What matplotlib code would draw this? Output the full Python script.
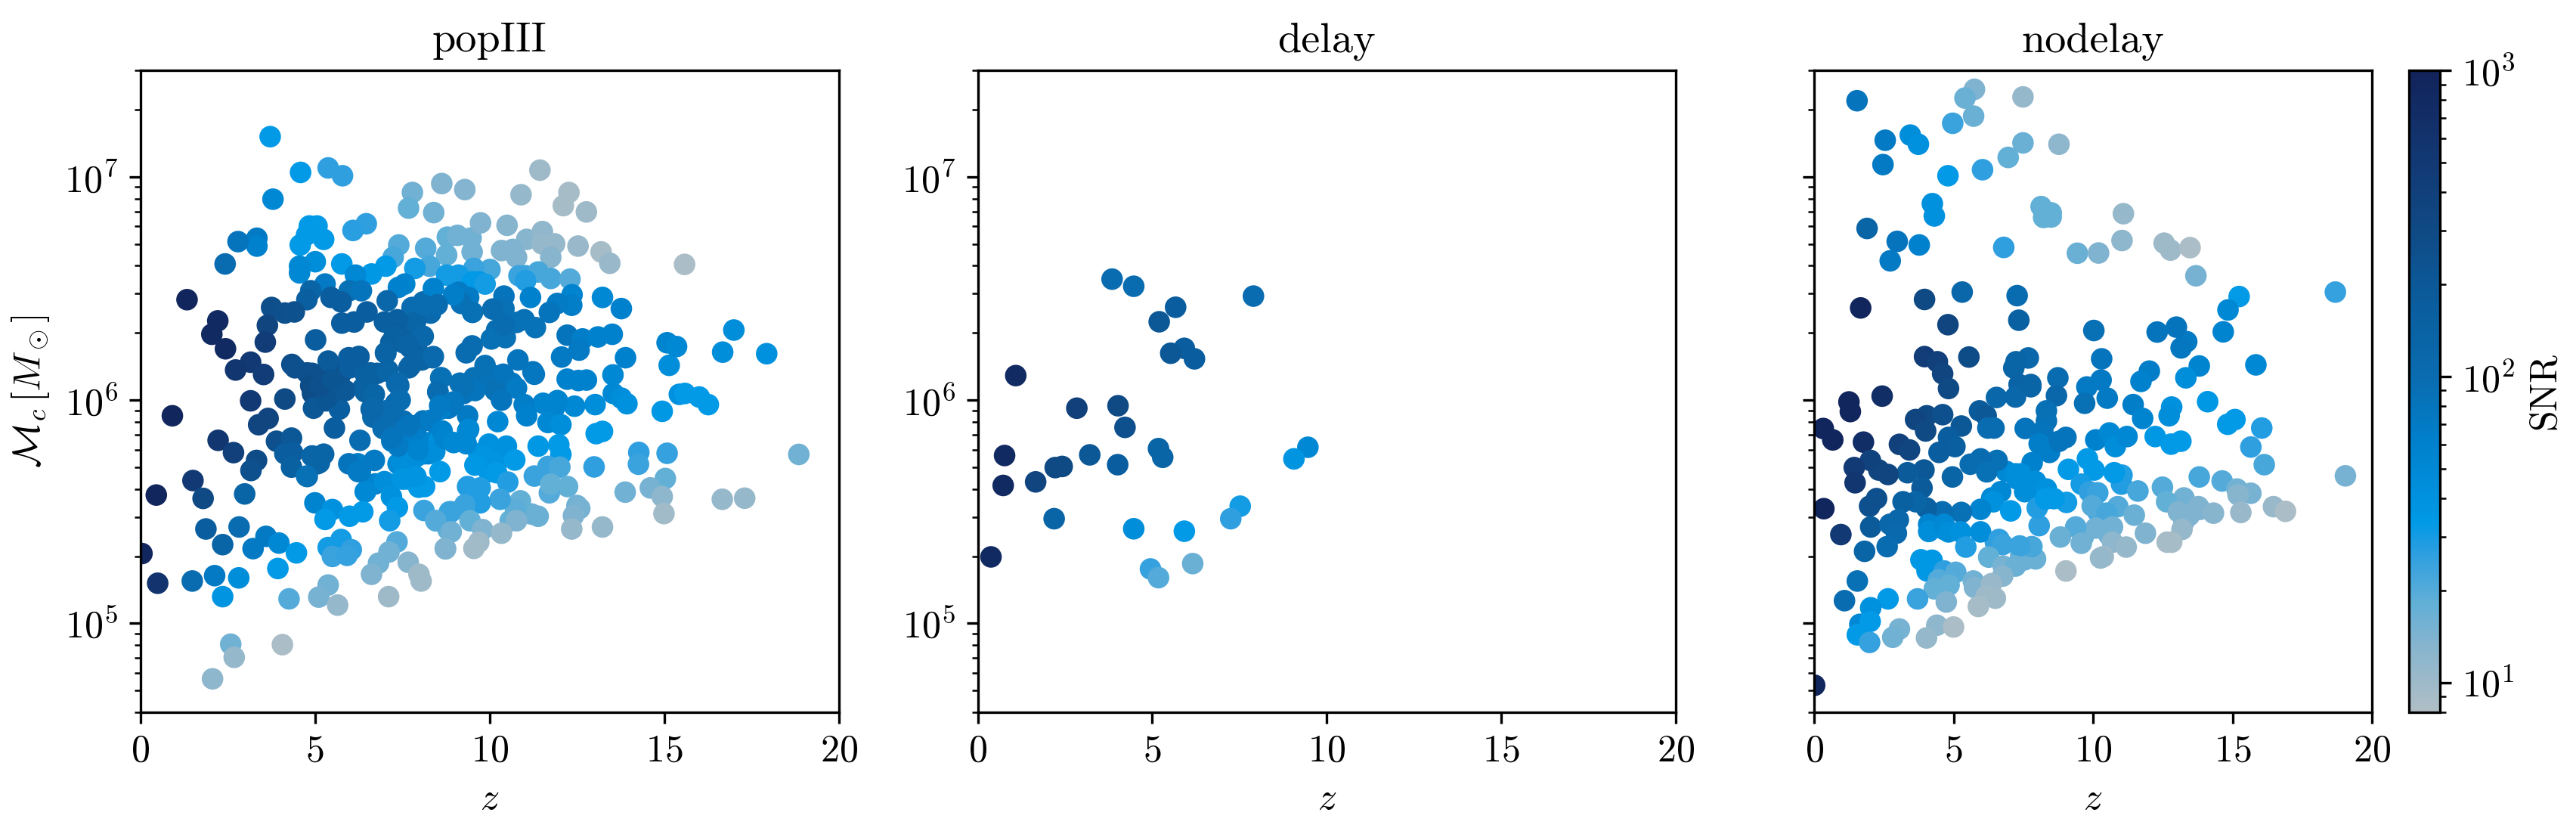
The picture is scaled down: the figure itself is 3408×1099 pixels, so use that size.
#!/usr/bin/env python3
"""
Chirp mass vs redshift scatter for the popIII, delay and nodelay models, coloured by SNR
"""

import numpy as np
import matplotlib
matplotlib.use('Agg')
import matplotlib.pyplot as plt
from matplotlib.colors import LinearSegmentedColormap, LogNorm

plt.rcParams['font.family'] = ['cmr10']
plt.rcParams['mathtext.fontset'] = 'cm'
plt.rcParams['axes.unicode_minus'] = False
plt.rcParams['axes.formatter.use_mathtext'] = True
plt.rcParams['font.size'] = 12

panel_titles = ['popIII', 'delay', 'nodelay']
x_ticks = [0, 5, 10, 15, 20]

# values, masses as log10(Mc / Msun)
popiii_z = [
    10.41, 10.77, 10.20, 7.45, 7.74, 7.53, 7.96, 7.17, 6.59, 7.09,
    5.94, 5.07, 4.78, 5.36, 5.72, 4.93, 5.22, 6.37, 7.31, 7.02,
    6.80, 7.53, 7.81, 8.10, 8.82, 9.26, 9.69, 10.12, 10.63, 11.85,
    7.81, 7.38, 7.09, 7.67, 7.96, 8.39, 7.38, 7.81, 8.25, 7.60,
    9.69, 10.20, 9.98, 10.34, 7.67, 6.44, 6.73, 6.23, 6.30, 4.93,
    5.07, 4.78,
    3.72, 4.59, 5.38, 5.79, 3.80, 7.79, 7.68, 8.40, 8.63, 6.47,
    6.09, 4.84, 5.06, 4.76, 5.25, 4.58, 3.34, 3.34, 2.80, 2.43,
    5.01, 4.56, 4.56, 5.77, 7.40, 7.24, 8.17, 8.79, 8.77, 8.28,
    7.86, 7.03, 6.62, 6.16, 8.77, 7.57, 7.39, 5.29, 5.98, 6.33,
    4.88, 4.77, 5.46, 5.75, 3.76, 4.14, 4.41, 3.64, 2.22, 2.05,
    2.44, 3.58, 1.34, 5.02, 5.77, 6.12, 6.49, 7.07, 7.78, 8.10,
    8.49, 8.31, 7.88, 6.99, 7.36, 8.06, 7.32, 7.73, 7.03, 8.37,
    7.69, 8.06, 8.60, 7.34, 8.52, 6.78, 7.07, 6.25, 5.97, 6.00,
    5.38, 6.43, 4.34, 4.43, 3.16, 2.73, 3.53, 4.92, 5.33, 4.88,
    5.38, 6.49, 7.40, 4.14, 3.16, 0.92, 4.96, 5.33, 5.70, 6.61,
    6.61, 7.40, 7.11, 6.66, 5.56, 3.66, 3.39, 7.03, 7.69, 8.31,
    8.60, 2.23, 2.67, 3.90, 4.33, 4.36, 4.14, 6.29, 7.20, 7.69,
    8.56, 8.15, 5.25, 4.92, 3.33, 3.17, 4.33, 5.13, 4.76, 5.97,
    6.70, 6.24, 7.47, 7.93, 8.43, 8.58, 7.56, 7.97, 6.99, 6.45,
    1.51, 1.80, 0.46, 2.99, 5.00, 5.50, 5.29, 5.99, 6.37, 7.19,
    7.36, 7.14, 8.12, 8.48, 8.81, 8.85, 1.88, 2.83, 2.36, 3.60,
    3.23, 3.97, 4.47, 5.75, 5.38, 6.04, 5.50, 5.92, 7.35, 7.12,
    6.82, 7.67, 6.62, 7.98, 8.04, 7.11, 8.73, 0.05, 0.50, 1.49,
    2.13, 2.82, 3.94, 2.36, 4.26, 5.38, 5.11, 5.65, 2.59, 2.69,
    4.07, 2.07, 9.08, 9.47, 9.50, 9.74, 10.50, 11.06, 11.51, 10.34,
    10.66, 10.77, 11.86, 11.50, 11.75, 12.53, 13.19, 13.44, 15.58, 10.01,
    9.55, 9.11, 9.51, 9.69, 9.87, 10.84, 11.03, 11.39, 11.03, 11.75,
    12.30, 12.36, 12.35, 11.94, 11.71, 11.17, 10.41, 10.41, 10.09, 13.23,
    13.77, 9.40, 9.11, 9.19, 9.51, 8.97, 8.39, 8.50, 8.10, 7.27,
    8.10, 7.67, 8.39, 7.74, 7.02, 6.26, 9.33, 9.50, 10.05, 10.45,
    10.41, 10.99, 11.31, 10.81, 11.24, 11.28, 9.87, 9.55, 9.15, 10.39,
    10.77, 10.16, 9.58, 10.34, 8.62, 8.52, 12.22, 12.66, 12.56, 12.06,
    13.10, 13.51, 13.89, 12.22, 12.54, 12.77, 13.53, 15.08, 15.14, 13.54,
    13.77, 13.93, 13.02, 12.43, 11.94, 11.53, 10.99, 11.06, 11.67, 12.04,
    10.23, 9.37, 9.40, 13.05, 13.23, 14.94, 15.43, 5.36, 5.15, 5.87,
    5.51, 6.44, 6.70, 7.37, 7.44, 7.20, 7.67, 6.66, 6.95, 8.32,
    8.64, 9.26, 8.97, 8.57, 7.38, 7.20, 7.96, 8.72, 8.97, 9.37,
    9.33, 9.98, 10.48, 11.39, 11.98, 12.04, 10.72, 9.83, 9.58, 10.20,
    10.52, 9.73, 9.37, 8.14, 7.49, 7.89, 11.28, 11.67, 12.01, 12.23,
    11.71, 11.75, 12.99, 14.27, 14.26, 15.08, 15.03, 14.60, 14.94, 14.99,
    13.88, 13.23, 12.50, 12.58, 12.40, 12.35, 11.39, 11.20, 10.88, 10.74,
    10.59, 10.77, 10.30, 9.73, 9.29, 8.90, 8.46, 9.44, 9.80, 8.90,
    10.34, 9.69, 9.55, 8.74, 15.59, 16.00, 16.26, 18.85, 16.66, 17.30,
    16.99, 16.67, 17.93, 15.35, 11.44, 10.90, 9.29, 12.27, 12.11, 12.77,
]
popiii_logmc = [
    6.37, 6.348, 6.314, 6.348, 6.314, 6.257, 6.212, 6.257, 6.122, 6.133,
    6.145, 6.11, 6.122, 6.077, 6.11, 6.03, 5.997, 6.054, 5.986, 5.952,
    5.92, 5.907, 5.885, 5.907, 5.964, 6.03, 6.077, 6.11, 6.077, 5.964,
    5.873, 5.884, 5.873, 5.805, 5.828, 5.816, 5.715, 5.737, 5.76, 5.68,
    5.76, 5.715, 5.68, 5.749, 5.647, 5.59, 5.625, 5.715, 5.68, 5.749,
    5.715, 5.658,
    7.18, 7.02, 7.04, 7.005, 6.90, 6.93, 6.86, 6.84, 6.97, 6.79,
    6.76, 6.78, 6.78, 6.74, 6.72, 6.695, 6.725, 6.69, 6.71, 6.61,
    6.62, 6.60, 6.57, 6.61, 6.695, 6.64, 6.68, 6.73, 6.65, 6.60,
    6.59, 6.60, 6.565, 6.56, 6.56, 6.52, 6.505, 6.52, 6.49, 6.49,
    6.49, 6.45, 6.46, 6.44, 6.415, 6.39, 6.395, 6.335, 6.355, 6.295,
    6.23, 6.26, 6.45, 6.27, 6.345, 6.35, 6.395, 6.445, 6.415, 6.44,
    6.43, 6.39, 6.35, 6.35, 6.36, 6.285, 6.29, 6.235, 6.21, 6.19,
    6.145, 6.18, 6.10, 6.075, 6.04, 6.12, 6.13, 6.195, 6.19, 6.145,
    6.175, 6.12, 6.16, 6.145, 6.17, 6.135, 6.115, 6.12, 6.085, 6.065,
    6.07, 6.04, 6.065, 6.005, 5.997, 5.93, 5.964, 5.997, 5.96, 6.02,
    5.96, 6.00, 5.95, 5.924, 5.875, 5.918, 5.89, 5.88, 5.885, 5.91,
    5.96, 5.82, 5.765, 5.816, 5.83, 5.765, 5.76, 5.82, 5.816, 5.78,
    5.82, 5.76, 5.758, 5.75, 5.73, 5.685, 5.70, 5.72, 5.66, 5.715,
    5.73, 5.68, 5.725, 5.75, 5.77, 5.68, 5.647, 5.61, 5.635, 5.59,
    5.64, 5.56, 5.575, 5.58, 5.54, 5.51, 5.466, 5.48, 5.50, 5.568,
    5.52, 5.46, 5.506, 5.46, 5.42, 5.50, 5.423, 5.432, 5.353, 5.39,
    5.335, 5.36, 5.316, 5.376, 5.34, 5.33, 5.30, 5.305, 5.365, 5.32,
    5.27, 5.274, 5.22, 5.22, 5.19, 5.12, 5.336, 5.313, 5.18, 5.19,
    5.214, 5.204, 5.246, 5.12, 5.11, 5.172, 5.118, 5.082, 4.907, 4.848,
    4.905, 4.752, 6.738, 6.726, 6.664, 6.794, 6.783, 6.72, 6.755, 6.67,
    6.675, 6.64, 6.70, 6.70, 6.64, 6.69, 6.664, 6.613, 6.608, 6.585,
    6.59, 6.56, 6.53, 6.53, 6.52, 6.557, 6.557, 6.574, 6.535, 6.545,
    6.542, 6.472, 6.425, 6.433, 6.393, 6.46, 6.466, 6.41, 6.408, 6.46,
    6.41, 6.46, 6.483, 6.433, 6.393, 6.472, 6.50, 6.427, 6.427, 6.286,
    6.286, 6.246, 6.195, 6.155, 6.212, 6.195, 6.212, 6.243, 6.274, 6.28,
    6.337, 6.36, 6.325, 6.18, 6.127, 6.116, 6.155, 6.10, 6.076, 6.116,
    6.054, 6.043, 6.043, 6.00, 6.10, 6.035, 6.291, 6.274, 6.224, 6.193,
    6.283, 6.295, 6.19, 6.094, 6.088, 6.09, 6.113, 6.257, 6.156, 6.03,
    6.009, 5.984, 5.98, 5.973, 5.998, 5.986, 5.98, 5.93, 5.90, 5.89,
    5.904, 5.93, 5.87, 5.85, 5.86, 5.95, 6.026, 6.01, 6.065, 6.043,
    6.09, 6.037, 6.026, 6.077, 6.00, 5.947, 5.885, 5.963, 5.873, 5.907,
    5.862, 6.065, 5.992, 5.975, 5.794, 5.83, 5.777, 5.828, 5.81, 5.862,
    5.805, 5.803, 5.794, 5.794, 5.80, 5.757, 5.732, 5.749, 5.709, 5.675,
    5.633, 5.607, 5.613, 5.613, 5.647, 5.658, 5.66, 5.703, 5.70, 5.613,
    5.585, 5.624, 5.701, 5.766, 5.713, 5.762, 5.649, 5.607, 5.568, 5.492,
    5.588, 5.432, 5.528, 5.515, 5.483, 5.423, 5.48, 5.49, 5.549, 5.511,
    5.46, 5.46, 5.556, 5.54, 5.531, 5.50, 5.46, 5.46, 5.42, 5.41,
    5.404, 5.364, 5.336, 5.334, 6.03, 6.014, 5.98, 5.757, 5.556, 5.561,
    6.314, 6.215, 6.208, 6.24, 7.03, 6.92, 6.943, 6.93, 6.871, 6.843,
]
popiii_snr = [
    90, 90, 95, 150, 150, 150, 130, 160, 150, 150,
    170, 260, 260, 230, 230, 280, 260, 150, 110, 110,
    110, 95, 90, 80, 75, 85, 85, 85, 75, 55,
    85, 90, 90, 65, 65, 55, 50, 50, 50, 42,
    38, 33, 35, 38, 38, 50, 55, 65, 65, 120,
    130, 110,
    33, 33, 26, 26, 50, 16, 18, 16, 14, 26,
    27, 33, 33, 33, 33, 33, 70, 60, 80, 100,
    45, 50, 50, 33, 20, 22, 20, 18, 18, 22,
    30, 33, 35, 50, 30, 55, 60, 70, 90, 80,
    130, 160, 170, 170, 260, 250, 240, 350, 800, 800,
    800, 450, 900, 170, 170, 170, 170, 120, 100, 100,
    100, 110, 130, 160, 160, 130, 170, 170, 160, 120,
    140, 140, 90, 100, 90, 160, 130, 170, 170, 170,
    180, 150, 260, 250, 500, 550, 450, 250, 250, 280,
    250, 150, 100, 300, 500, 900, 200, 220, 170, 130,
    130, 110, 100, 120, 170, 350, 350, 90, 70, 60,
    60, 550, 400, 250, 200, 170, 170, 100, 70, 60,
    40, 50, 130, 130, 280, 250, 150, 130, 90, 80,
    70, 70, 45, 45, 45, 33, 40, 33, 45, 50,
    500, 300, 900, 130, 55, 40, 33, 33, 33, 40,
    33, 30, 24, 22, 18, 24, 170, 100, 130, 70,
    70, 50, 33, 30, 30, 26, 24, 25, 20, 16,
    16, 13, 14, 10, 10, 10, 14, 900, 600, 100,
    70, 45, 33, 38, 20, 16, 15, 11, 16, 11,
    8.5, 12, 16, 16, 16, 14, 13, 13, 11.5, 14,
    14, 14, 11, 11, 13, 10.5, 9, 10.5, 8.5, 22,
    24, 30, 33, 33, 30, 24, 24, 22, 28, 22,
    20, 55, 65, 70, 80, 60, 80, 90, 100, 50,
    60, 70, 70, 90, 90, 65, 60, 100, 100, 150,
    120, 140, 110, 140, 140, 170, 100, 100, 90, 90,
    100, 90, 85, 80, 80, 75, 90, 90, 90, 80,
    70, 90, 80, 80, 90, 100, 80, 65, 70, 70,
    60, 60, 60, 60, 60, 60, 50, 55, 45, 50,
    45, 40, 45, 50, 55, 55, 65, 60, 50, 45,
    50, 70, 50, 33, 33, 35, 40, 220, 250, 200,
    220, 150, 130, 110, 100, 100, 80, 120, 100, 70,
    60, 90, 75, 70, 70, 80, 55, 55, 50, 50,
    50, 40, 40, 35, 33, 33, 33, 38, 35, 33,
    28, 28, 28, 33, 38, 38, 24, 24, 22, 18,
    20, 18, 26, 26, 24, 25, 18, 15, 12, 9.5,
    16, 11, 16, 15, 14, 11, 17, 17, 18, 19,
    18, 14, 24, 28, 24, 24, 20, 18, 14, 16,
    11, 10, 9.5, 14, 33, 33, 33, 16, 11, 11,
    45, 45, 40, 50, 10, 11, 13.5, 9, 9, 10,
]

delay_z = [
    3.85, 4.47, 5.67, 5.20, 7.90, 5.92, 5.53, 6.21, 1.09, 2.84,
    4.02, 4.22, 5.18, 5.30, 0.77, 3.21, 4.01, 2.42, 2.22, 1.66,
    0.73, 2.19, 9.46, 9.06, 7.52, 7.25, 4.47, 5.92, 0.38, 6.16,
    4.95, 5.18,
]
delay_logmc = [
    6.542, 6.51, 6.416, 6.351, 6.466, 6.232, 6.21, 6.185, 6.11, 5.964,
    5.975, 5.878, 5.783, 5.744, 5.752, 5.755, 5.711, 5.703, 5.698, 5.634,
    5.618, 5.469, 5.789, 5.737, 5.525, 5.469, 5.424, 5.413, 5.298, 5.268,
    5.244, 5.205,
]
delay_snr = [
    100, 100, 170, 200, 100, 170, 200, 170, 800, 400,
    300, 250, 130, 130, 800, 200, 170, 300, 300, 350,
    800, 130, 50, 38, 30, 26, 45, 33, 800, 17,
    25, 20,
]

nodelay_z = [
    7.28, 6.89, 7.81, 4.66, 6.50, 7.41, 7.55, 9.65, 10.56, 12.66,
    13.26, 13.84, 10.17,
    1.54, 5.75, 5.41, 7.49, 5.72, 4.97, 2.55, 3.45, 3.74, 7.49,
    8.78, 2.47, 6.96, 4.80, 6.04, 4.24, 4.31, 8.14, 8.50, 8.50,
    8.23, 11.09, 1.90, 2.98, 3.77, 2.73, 6.80, 9.44, 10.20, 11.04,
    12.55, 12.78, 13.48, 13.69, 18.69, 15.24, 14.84, 14.67, 15.84, 13.81,
    13.33, 13.36, 12.99, 13.16, 12.30, 10.03, 12.02, 11.72, 10.31, 10.29,
    9.78, 8.74, 7.68, 7.24, 7.16, 7.77, 7.35, 5.31, 7.28, 7.34,
    3.96, 4.80, 1.67, 3.96, 4.42, 4.61, 5.55, 4.82, 1.25, 1.30,
    2.44, 0.33, 0.67, 1.77, 3.06, 3.42, 4.04, 3.64, 4.00, 4.61,
    5.28, 4.82, 5.05, 4.48, 5.93, 6.17, 6.54, 7.22, 7.77, 8.69,
    8.33, 8.33, 7.57, 6.23, 6.45, 8.20, 8.07, 8.44, 9.03, 8.79,
    9.70, 10.51, 11.44, 11.78, 12.82, 12.73, 14.11, 14.83, 15.09, 16.05,
    15.66, 16.14, 19.05, 10.10, 10.59, 10.80, 11.22, 12.23, 12.80, 13.15,
    9.80, 10.04, 9.12, 7.82, 6.56, 5.97, 5.60, 6.19, 4.96, 3.94,
    3.35, 3.87, 2.65, 2.32, 2.02, 1.44, 1.47, 7.22, 7.41, 7.94,
    8.33, 7.55, 6.69, 6.37, 6.43, 9.58, 9.87, 10.17, 11.04, 11.02,
    10.76, 11.61, 12.49, 13.81, 14.63, 13.26, 12.64, 15.16, 15.66, 15.20,
    13.78, 13.06, 13.45, 14.32, 15.30, 16.47, 16.90, 13.19, 12.82, 9.97,
    10.89, 11.48, 10.50, 11.88, 10.70, 10.10, 10.70, 11.19, 10.37, 10.27,
    9.38, 8.83, 9.58, 9.03, 7.94, 7.81, 7.37, 8.07, 8.00, 9.05,
    8.60, 8.30, 7.05, 5.97, 5.28, 4.60, 4.03, 3.65, 3.19, 2.24,
    1.99, 0.35, 0.96, 2.03, 3.02, 2.72, 2.95, 2.62, 1.81, 4.11,
    4.11, 4.66, 4.82, 5.25, 5.97, 5.44, 6.63, 6.76, 6.26, 6.78,
    7.22, 6.76, 3.83, 4.23, 4.05, 4.66, 5.08, 4.46, 4.31, 4.84,
    4.74, 3.71, 5.71, 5.75, 6.36, 6.17, 6.50, 5.89, 1.55, 1.09,
    2.65, 1.64, 2.03, 2.01, 1.55, 1.99, 3.06, 2.82, 4.40, 4.03,
    5.00, 0.02,
]
nodelay_logmc = [
    5.647, 5.681, 5.602, 5.421, 5.364, 5.308, 5.285, 5.387, 5.398, 5.364,
    5.455, 5.511, 5.50,
    7.341, 7.392, 7.353, 7.358, 7.272, 7.24, 7.164, 7.187, 7.146, 7.152,
    7.146, 7.055, 7.087, 7.005, 7.032, 6.88, 6.825, 6.867, 6.839, 6.82,
    6.818, 6.835, 6.769, 6.711, 6.695, 6.624, 6.684, 6.658, 6.659, 6.715,
    6.703, 6.672, 6.683, 6.557, 6.484, 6.464, 6.404, 6.306, 6.158, 6.153,
    6.10, 6.262, 6.327, 6.234, 6.305, 6.312, 6.13, 6.084, 6.185, 6.09,
    6.059, 6.10, 6.189, 6.172, 6.144, 6.07, 6.07, 6.484, 6.468, 6.358,
    6.451, 6.338, 6.413, 6.195, 6.172, 6.118, 6.193, 6.052, 5.992, 5.949,
    6.018, 5.873, 5.822, 5.812, 5.802, 5.777, 5.93, 5.913, 5.862, 5.935,
    5.884, 5.833, 5.792, 5.766, 5.952, 5.93, 6.012, 6.014, 6.06, 6.02,
    5.952, 5.907, 5.873, 5.875, 5.875, 5.862, 5.805, 5.766, 5.833, 5.816,
    5.986, 6.009, 5.98, 5.918, 5.969, 5.93, 5.993, 5.892, 5.913, 5.875,
    5.79, 5.711, 5.661, 5.822, 5.853, 5.792, 5.837, 5.837, 5.803, 5.816,
    5.737, 5.687, 5.69, 5.72, 5.73, 5.737, 5.713, 5.679, 5.656, 5.687,
    5.675, 5.607, 5.667, 5.687, 5.73, 5.698, 5.63, 5.67, 5.67, 5.636,
    5.602, 5.59, 5.59, 5.562, 5.545, 5.624, 5.59, 5.585, 5.664, 5.624,
    5.675, 5.593, 5.61, 5.656, 5.638, 5.562, 5.545, 5.602, 5.583, 5.576,
    5.523, 5.50, 5.483, 5.494, 5.497, 5.523, 5.502, 5.421, 5.364, 5.526,
    5.523, 5.485, 5.494, 5.404, 5.432, 5.427, 5.364, 5.342, 5.299, 5.293,
    5.432, 5.387, 5.359, 5.235, 5.289, 5.344, 5.347, 5.438, 5.517, 5.542,
    5.559, 5.557, 5.504, 5.511, 5.497, 5.50, 5.517, 5.545, 5.545, 5.559,
    5.525, 5.514, 5.398, 5.432, 5.464, 5.444, 5.404, 5.344, 5.323, 5.444,
    5.412, 5.444, 5.41, 5.41, 5.41, 5.342, 5.376, 5.353, 5.297, 5.257,
    5.257, 5.212, 5.285, 5.283, 5.235, 5.235, 5.229, 5.195, 5.155, 5.172,
    5.096, 5.11, 5.19, 5.161, 5.178, 5.122, 5.113, 5.076, 5.19, 5.102,
    5.11, 4.996, 5.07, 5.009, 4.949, 4.915, 4.975, 4.938, 4.992, 4.935,
    4.984, 4.723,
]
nodelay_snr = [
    45, 50, 45, 45, 26, 18, 17, 17, 16, 9,
    12, 14, 22,
    80, 14, 17, 11, 17, 24, 70, 45, 40, 17,
    12, 70, 18, 33, 26, 40, 40, 18, 18, 18,
    18, 11, 130, 80, 60, 70, 26, 17, 14, 12,
    10, 10, 8.5, 15, 25, 33, 50, 55, 50, 55,
    45, 70, 80, 75, 80, 90, 65, 60, 80, 70,
    70, 100, 120, 130, 130, 130, 140, 120, 100, 150,
    300, 350, 900, 450, 400, 350, 280, 300, 900, 900,
    700, 900, 900, 700, 400, 350, 300, 350, 300, 250,
    200, 170, 160, 170, 180, 200, 120, 120, 130, 120,
    90, 90, 80, 100, 100, 80, 65, 65, 80, 80,
    90, 70, 65, 55, 40, 45, 35, 33, 33, 28,
    26, 22, 15, 60, 50, 45, 50, 35, 33, 33,
    33, 33, 33, 60, 90, 100, 100, 90, 130, 200,
    180, 180, 350, 350, 380, 480, 550, 45, 45, 45,
    40, 45, 50, 50, 40, 30, 26, 24, 28, 28,
    33, 22, 20, 22, 20, 16, 18, 16, 15, 13,
    14, 14, 14, 13, 10.5, 10.5, 8.5, 11, 9, 20,
    20, 17, 22, 14, 16, 16, 12, 11, 10, 11,
    20, 17, 16, 8.5, 17, 22, 24, 26, 28, 30,
    33, 33, 33, 55, 90, 100, 150, 130, 150, 250,
    250, 900, 500, 180, 120, 120, 110, 100, 130, 55,
    45, 50, 45, 40, 45, 28, 26, 24, 18, 15,
    17, 13, 35, 35, 35, 26, 20, 20, 18, 18,
    14, 24, 16, 14, 10.5, 10, 10, 9, 90, 100,
    33, 50, 40, 33, 33, 25, 15, 16, 12, 11,
    8.5, 900,
]

# colour stops (log position, hex)
cmap_stops = [
    (0.0, '#b0bec5'), (0.107, '#84b4cf'), (0.172, '#5fafd7'), (0.244, '#2f9fe0'),
    (0.296, '#0099e6'), (0.42, '#0080cc'), (0.52, '#0a6cb0'), (0.63, '#0a5e9f'),
    (0.75, '#0f4a85'), (0.85, '#123a75'), (1.0, '#12235a'),
]


def pixel_rect(left, right, top, bottom):
    """Axes rectangle from pixel edges of the 3408x1099 image"""
    return [left / 3408, 1 - bottom / 1099, (right - left) / 3408, (bottom - top) / 1099]


def plot_panels():
    cmap = LinearSegmentedColormap.from_list('snr', cmap_stops)
    norm = LogNorm(vmin=8, vmax=1000)

    fig = plt.figure(figsize=(3408 / 300, 1099 / 300), dpi=300)
    axes = [
        fig.add_axes(pixel_rect(185.5, 1110, 93, 942)),
        fig.add_axes(pixel_rect(1293.5, 2217, 93, 942)),
        fig.add_axes(pixel_rect(2400, 3138, 93, 942)),
    ]
    cax = fig.add_axes(pixel_rect(3187, 3228, 93, 942))

    data = [
        (popiii_z, popiii_logmc, popiii_snr),
        (delay_z, delay_logmc, delay_snr),
        (nodelay_z, nodelay_logmc, nodelay_snr),
    ]
    for i, (ax, (z, logmc, snr)) in enumerate(zip(axes, data)):
        sc = ax.scatter(z, 10 ** np.array(logmc), c=snr, s=47, cmap=cmap, norm=norm, linewidths=0)
        ax.set_yscale('log')
        ax.set_xlim(0, 20)
        ax.set_ylim(4e4, 3e7)
        ax.set_xticks(x_ticks)
        ax.set_xlabel(r'$z$')
        ax.set_title(panel_titles[i], fontsize=13.5)
    axes[0].set_ylabel(r'$\mathcal{M}_c\,[M_\odot]$')
    axes[2].set_yticklabels([])

    cbar = fig.colorbar(sc, cax=cax)
    cbar.set_label('SNR')

    fig.savefig('out.png', dpi=300)


if __name__ == "__main__":
    plot_panels()
